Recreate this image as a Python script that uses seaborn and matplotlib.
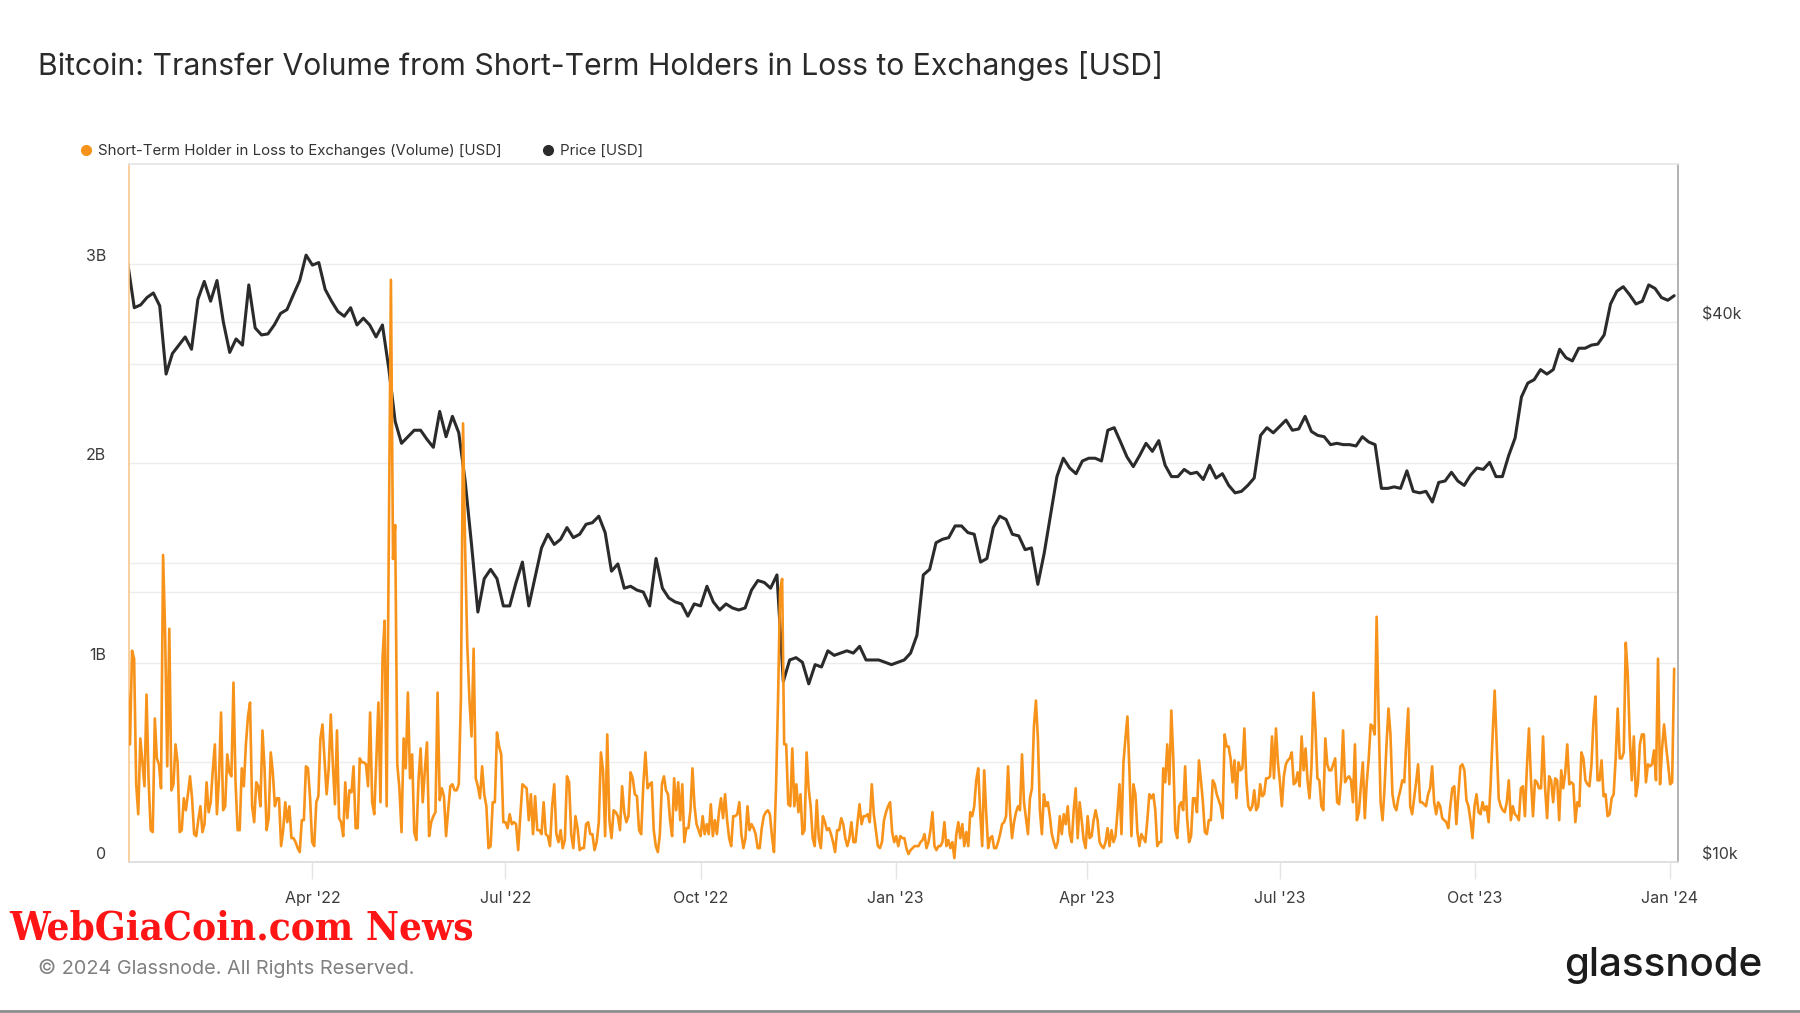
import numpy as np
import pandas as pd
import matplotlib
matplotlib.use("Agg")
import matplotlib.pyplot as plt
import matplotlib.dates as mdates
import matplotlib.transforms as mtransforms
from matplotlib.lines import Line2D
from matplotlib.ticker import NullLocator, NullFormatter
import seaborn as sns

# ---------------- DATA ----------------
title_text = "Bitcoin: Transfer Volume from Short-Term Holders in Loss to Exchanges [USD]"
series_labels = ["Short-Term Holder in Loss to Exchanges (Volume) [USD]", "Price [USD]"]

# BTC price (thousand USD), every 3 days from 2022-01-04
price_start = "2022-01-04"
price_k = [
    # 2022
    46.4, 41.5, 41.8, 42.6, 43.1, 41.7, 35.0, 36.9, 37.7, 38.5,
    37.3, 42.4, 44.4, 42.2, 44.5, 40.0, 37.0, 38.3, 37.7,
    44.0, 39.4, 38.7, 38.8, 39.7, 40.9, 41.3, 42.9, 44.5, 47.5,
    46.3, 46.6, 43.5, 42.2, 41.1, 40.6, 41.5, 39.7, 40.4, 39.7,
    38.5, 39.7, 35.5, 31.0, 29.3, 29.8, 30.3, 30.3, 29.6, 29.0, 31.8,
    29.8, 31.4, 30.1, 26.6, 22.6, 19.0, 20.7, 21.2, 20.7, 19.3,
    19.3, 20.5, 21.6, 19.3, 20.8, 22.4, 23.2, 22.6, 22.9, 23.6,
    23.0, 23.2, 23.8, 23.9, 24.3, 23.3, 21.1, 21.5, 20.2, 20.3,
    20.1, 20.0, 19.3, 21.8, 20.2, 19.7, 19.5, 19.4, 18.8, 19.4,
    19.3, 20.3, 19.5, 19.1, 19.4, 19.2, 19.1, 19.2, 20.1, 20.6, 20.5,
    20.2, 20.9, 15.9, 16.8, 16.9, 16.7, 15.8, 16.6, 16.5, 17.2,
    17.0, 17.1, 17.2, 17.1, 17.4, 16.8, 16.8, 16.8, 16.7, 16.6,
    # 2023
    16.7, 16.8, 17.1, 17.9, 20.9, 21.2, 22.7, 22.9, 23.0, 23.7,
    23.7, 23.3, 23.2, 21.6, 21.8, 23.6, 24.3, 24.1, 23.2, 23.1,
    22.3, 22.4, 20.4, 22.1, 24.4, 26.9, 28.2, 27.5, 27.1, 28.0,
    28.2, 28.2, 28.0, 30.3, 30.5, 29.4, 28.3, 27.6, 28.4, 29.3,
    28.7, 29.5, 27.7, 26.9, 26.9, 27.4, 27.1, 27.2, 26.7, 27.7,
    26.8, 27.1, 26.3, 25.8, 25.9, 26.3, 26.8, 29.9, 30.5, 30.1,
    30.6, 31.1, 30.3, 30.4, 31.4, 30.2, 29.9, 29.8, 29.2, 29.3, 29.2,
    29.2, 29.1, 29.8, 29.4, 29.2, 26.1, 26.1, 26.2, 26.1, 27.3,
    25.9, 25.8, 25.9, 25.2, 26.5, 26.6, 27.2, 26.6, 26.3, 27.0,
    27.5, 27.4, 27.9, 26.9, 26.9, 28.4, 29.7, 33.0, 34.2, 34.5,
    35.4, 35.0, 35.4, 37.3, 36.5, 36.2, 37.4, 37.4, 37.7, 37.8,
    38.7, 41.9, 43.3, 43.8, 42.9, 41.9, 42.2, 44.0, 43.6, 42.6, 42.3,
    # 2024
    42.8,
]

# Transfer volume (billion USD), read in six date segments (evenly spaced inside each)
vol_seg1_dates = ("2022-01-04", "2022-05-06")
vol_seg1 = [0.86, 0.59, 1.06, 1.02, 0.39, 0.24, 0.62, 0.50, 0.38, 0.84, 0.41, 0.16, 0.15, 0.72, 0.52, 0.49,
            0.37, 1.54, 1.14, 0.48, 1.17, 0.36, 0.39, 0.59, 0.50, 0.15, 0.16, 0.32, 0.26, 0.34, 0.43, 0.32,
            0.14, 0.13, 0.21, 0.28, 0.15, 0.19, 0.40, 0.25, 0.30, 0.46, 0.59, 0.24, 0.42, 0.75, 0.26, 0.28,
            0.54, 0.45, 0.43, 0.90, 0.40, 0.16, 0.16, 0.47, 0.38, 0.59, 0.73, 0.80, 0.28, 0.20, 0.40, 0.38,
            0.28, 0.66, 0.47, 0.16, 0.22, 0.55, 0.45, 0.28, 0.32, 0.32, 0.08, 0.16, 0.30, 0.20, 0.28, 0.12,
            0.12, 0.10, 0.07, 0.05, 0.21, 0.21, 0.48, 0.47, 0.32, 0.10, 0.08, 0.30, 0.33, 0.62, 0.69, 0.51,
            0.34, 0.47, 0.74, 0.49, 0.29, 0.66, 0.22, 0.20, 0.13, 0.40, 0.22, 0.36, 0.35, 0.48, 0.17, 0.17,
            0.52, 0.50, 0.50, 0.49, 0.38, 0.75, 0.30, 0.24, 0.51, 0.80, 0.30, 1.02, 1.21, 0.28]
vol_seg2_dates = ("2022-05-08", "2022-09-06")
vol_seg2 = [2.92, 1.52, 1.69, 0.49, 0.37, 0.15, 0.62, 0.47, 0.85, 0.42, 0.54, 0.15, 0.11, 0.41, 0.57, 0.30,
            0.46, 0.60, 0.13, 0.20, 0.23, 0.25, 0.85, 0.31, 0.37, 0.33, 0.13, 0.26, 0.38, 0.39, 0.36, 0.36,
            0.39, 0.82, 2.20, 1.57, 1.09, 0.82, 0.63, 1.07, 0.42, 0.38, 0.32, 0.48, 0.34, 0.28, 0.07, 0.08,
            0.30, 0.30, 0.65, 0.58, 0.54, 0.20, 0.20, 0.17, 0.24, 0.19, 0.20, 0.19, 0.06, 0.23, 0.39, 0.38,
            0.37, 0.21, 0.34, 0.14, 0.33, 0.16, 0.16, 0.14, 0.30, 0.14, 0.13, 0.08, 0.28, 0.39, 0.14, 0.10,
            0.16, 0.07, 0.11, 0.43, 0.40, 0.14, 0.07, 0.23, 0.17, 0.06, 0.07, 0.07, 0.19, 0.20, 0.14, 0.14,
            0.06, 0.10, 0.20, 0.55, 0.46, 0.13, 0.64, 0.21, 0.12, 0.26, 0.25, 0.23, 0.16, 0.38, 0.25, 0.20,
            0.23, 0.45, 0.42, 0.34, 0.33, 0.16, 0.14, 0.39, 0.55, 0.37]
vol_seg3_dates = ("2022-09-07", "2023-01-07")
vol_seg3 = [0.39, 0.40, 0.16, 0.08, 0.05, 0.14, 0.39, 0.43, 0.36, 0.34, 0.21, 0.13, 0.42, 0.26, 0.40, 0.21,
            0.39, 0.10, 0.17, 0.17, 0.26, 0.47, 0.28, 0.19, 0.16, 0.13, 0.23, 0.14, 0.19, 0.14, 0.29, 0.13,
            0.21, 0.14, 0.25, 0.32, 0.22, 0.34, 0.21, 0.12, 0.08, 0.23, 0.23, 0.24, 0.30, 0.14, 0.07, 0.12,
            0.28, 0.16, 0.19, 0.17, 0.14, 0.07, 0.07, 0.17, 0.23, 0.25, 0.26, 0.24, 0.13, 0.05, 0.37, 0.82,
            1.36, 1.42, 0.59, 0.59, 0.29, 0.28, 0.57, 0.28, 0.39, 0.25, 0.34, 0.14, 0.16, 0.55, 0.37, 0.28,
            0.12, 0.08, 0.31, 0.12, 0.07, 0.23, 0.20, 0.16, 0.17, 0.14, 0.10, 0.05, 0.16, 0.16, 0.22, 0.19,
            0.12, 0.08, 0.12, 0.20, 0.10, 0.10, 0.20, 0.29, 0.19, 0.23, 0.23, 0.24, 0.20, 0.39, 0.24, 0.16,
            0.08, 0.07, 0.10, 0.21, 0.25, 0.28, 0.30, 0.15, 0.10, 0.13, 0.08, 0.13, 0.12, 0.12, 0.07, 0.04]
vol_seg4_dates = ("2023-01-08", "2023-05-09")
vol_seg4 = [0.06, 0.07, 0.08, 0.08, 0.08, 0.10, 0.11, 0.14, 0.07, 0.10, 0.16, 0.25, 0.08, 0.06, 0.08, 0.08,
            0.10, 0.20, 0.08, 0.11, 0.07, 0.10, 0.02, 0.14, 0.20, 0.12, 0.19, 0.08, 0.15, 0.08, 0.25, 0.23,
            0.28, 0.41, 0.47, 0.25, 0.08, 0.46, 0.25, 0.07, 0.12, 0.13, 0.07, 0.07, 0.10, 0.14, 0.19, 0.20,
            0.23, 0.48, 0.25, 0.12, 0.20, 0.25, 0.28, 0.26, 0.54, 0.30, 0.22, 0.14, 0.32, 0.37, 0.68, 0.81,
            0.62, 0.26, 0.14, 0.34, 0.28, 0.30, 0.23, 0.14, 0.10, 0.07, 0.10, 0.23, 0.14, 0.24, 0.19, 0.28,
            0.14, 0.10, 0.26, 0.37, 0.12, 0.30, 0.21, 0.11, 0.07, 0.23, 0.12, 0.13, 0.21, 0.26, 0.21, 0.10,
            0.08, 0.07, 0.10, 0.17, 0.08, 0.16, 0.10, 0.13, 0.25, 0.39, 0.14, 0.50, 0.62, 0.73, 0.46, 0.13,
            0.39, 0.34, 0.15, 0.08, 0.14, 0.12, 0.10, 0.21, 0.34, 0.32, 0.34, 0.26, 0.08, 0.10, 0.10, 0.47,
            0.40, 0.59]
vol_seg5_dates = ("2023-05-10", "2023-09-08")
vol_seg5 = [0.39, 0.76, 0.52, 0.16, 0.12, 0.28, 0.30, 0.26, 0.48, 0.22, 0.10, 0.13, 0.32, 0.32, 0.25, 0.51,
            0.41, 0.30, 0.15, 0.14, 0.21, 0.21, 0.41, 0.39, 0.34, 0.31, 0.28, 0.22, 0.64, 0.58, 0.58, 0.52,
            0.40, 0.51, 0.32, 0.50, 0.46, 0.47, 0.67, 0.41, 0.28, 0.26, 0.28, 0.36, 0.26, 0.28, 0.39, 0.33,
            0.34, 0.42, 0.42, 0.43, 0.63, 0.42, 0.67, 0.50, 0.40, 0.28, 0.43, 0.49, 0.51, 0.52, 0.55, 0.39,
            0.40, 0.45, 0.38, 0.63, 0.46, 0.57, 0.41, 0.32, 0.48, 0.85, 0.67, 0.42, 0.41, 0.28, 0.26, 0.62,
            0.49, 0.46, 0.46, 0.49, 0.52, 0.30, 0.29, 0.41, 0.66, 0.40, 0.42, 0.43, 0.41, 0.30, 0.59, 0.21,
            0.25, 0.38, 0.50, 0.22, 0.40, 0.52, 0.69, 0.68, 0.64, 1.23, 0.73, 0.30, 0.21, 0.37, 0.59, 0.77,
            0.64, 0.34, 0.28, 0.26, 0.32, 0.36, 0.41, 0.40, 0.60, 0.77, 0.28, 0.24, 0.32, 0.40, 0.49, 0.30,
            0.30, 0.29, 0.28]
vol_seg6_dates = ("2023-09-09", "2024-01-03")
vol_seg6 = [0.34, 0.37, 0.48, 0.30, 0.24, 0.30, 0.28, 0.22, 0.21, 0.20, 0.17, 0.28, 0.37, 0.38, 0.19, 0.34,
            0.48, 0.49, 0.46, 0.31, 0.28, 0.21, 0.12, 0.28, 0.34, 0.25, 0.24, 0.30, 0.26, 0.28, 0.20, 0.39,
            0.64, 0.86, 0.59, 0.32, 0.28, 0.26, 0.25, 0.30, 0.41, 0.21, 0.28, 0.24, 0.23, 0.21, 0.37, 0.38,
            0.23, 0.48, 0.67, 0.41, 0.23, 0.41, 0.40, 0.37, 0.37, 0.63, 0.37, 0.22, 0.43, 0.41, 0.30, 0.42,
            0.41, 0.21, 0.46, 0.37, 0.45, 0.59, 0.39, 0.40, 0.39, 0.20, 0.30, 0.28, 0.55, 0.52, 0.41, 0.39,
            0.38, 0.49, 0.71, 0.83, 0.41, 0.41, 0.51, 0.33, 0.34, 0.23, 0.24, 0.32, 0.34, 0.52, 0.77, 0.52,
            0.52, 0.55, 1.10, 0.94, 0.62, 0.41, 0.63, 0.33, 0.39, 0.59, 0.64, 0.64, 0.40, 0.49, 0.48, 0.49,
            0.56, 0.41, 1.02, 0.39, 0.57, 0.69, 0.58, 0.49, 0.39, 0.40, 0.97]

vol_ticks = [0, 1e9, 2e9, 3e9]
vol_tick_labels = ["0", "1B", "2B", "3B"]
vol_grid = [0.5e9, 1e9, 1.5e9, 2e9, 2.5e9, 3e9]
price_ticks = [10000, 40000]
price_tick_labels = ["$10k", "$40k"]
price_grid = [20000, 40000]

# ---------------- BUILD FRAMES ----------------
segments = [(vol_seg1_dates, vol_seg1), (vol_seg2_dates, vol_seg2), (vol_seg3_dates, vol_seg3),
            (vol_seg4_dates, vol_seg4), (vol_seg5_dates, vol_seg5), (vol_seg6_dates, vol_seg6)]
v_dates, v_vals = [], []
for (s, e), vals in segments:
    v_dates.extend(pd.date_range(s, e, periods=len(vals)))
    v_vals.extend(vals)
vol_df = pd.DataFrame({"date": v_dates, "volume": np.array(v_vals) * 1e9})
price_df = pd.DataFrame({"date": pd.date_range(price_start, periods=len(price_k), freq="3D"),
                         "price": np.array(price_k) * 1000})

# ---------------- STYLE ----------------
sns.set_theme(style="white")
plt.rcParams["font.family"] = ["Inter", "DejaVu Sans"]

ORANGE = "#f7931a"
DARK = "#2b2b2b"
GRID = "#ececec"
TICKC = "#3c3c3c"

fig = plt.figure(figsize=(18, 10.13), dpi=100)
ax_v = fig.add_axes([0.0714, 0.149, 0.8608, 0.689])
ax_p = ax_v.twinx()
ax_v.set_zorder(ax_p.get_zorder() + 1)
ax_v.patch.set_visible(False)

# price (bottom layer)
sns.lineplot(data=price_df, x="date", y="price", ax=ax_p, color=DARK, linewidth=2.2, zorder=3)
ax_p.set_yscale("log")
ax_p.set_ylim(10000, 60000)

# volume (top layer)
sns.lineplot(data=vol_df, x="date", y="volume", ax=ax_v, color=ORANGE, linewidth=1.9, zorder=3)
ax_v.set_ylim(0, 3.5e9)
ax_v.set_xlim(pd.Timestamp("2022-01-04 07:00"), pd.Timestamp("2024-01-04 19:00"))

# gridlines, all on the bottom layer
for g in price_grid:
    ax_p.axhline(g, color=GRID, lw=1.0, zorder=0)
blend = mtransforms.blended_transform_factory(ax_p.transAxes, ax_v.transData)
for g in vol_grid:
    ax_p.add_line(Line2D([0, 1], [g, g], transform=blend, color=GRID, lw=1.0, zorder=0))

# axes labels / ticks
for a in (ax_v, ax_p):
    a.set_xlabel("")
    a.set_ylabel("")
ax_v.set_yticks(vol_ticks)
ax_v.set_yticklabels(vol_tick_labels)
ax_v.tick_params(axis="y", left=False, length=0, pad=16, labelsize=11.5, labelcolor=TICKC)
for t in ax_v.get_yticklabels():
    t.set_verticalalignment("bottom")

ax_p.yaxis.set_minor_locator(NullLocator())
ax_p.yaxis.set_minor_formatter(NullFormatter())
ax_p.set_yticks(price_ticks)
ax_p.set_yticklabels(price_tick_labels)
ax_p.tick_params(axis="y", right=False, length=0, pad=17, labelsize=11.5, labelcolor=TICKC)
for t in ax_p.get_yticklabels():
    t.set_verticalalignment("bottom")

ax_v.xaxis.set_major_locator(mdates.MonthLocator(bymonth=[1, 4, 7, 10]))
ax_v.xaxis.set_major_formatter(mdates.DateFormatter("%b '%y"))
ax_v.tick_params(axis="x", bottom=True, length=12, width=1, color="#e4e4e4", pad=9,
                 labelsize=11.5, labelcolor=TICKC)

# spines
for name, sp in ax_v.spines.items():
    sp.set_visible(name in ("left", "top", "bottom"))
ax_v.spines["left"].set_color("#fbc78c")
ax_v.spines["left"].set_linewidth(1.2)
ax_v.spines["top"].set_color("#e6e6e6")
ax_v.spines["bottom"].set_color("#dcdcdc")
for name, sp in ax_p.spines.items():
    sp.set_visible(name == "right")
ax_p.spines["right"].set_color("#a6a6a6")
ax_p.spines["right"].set_linewidth(1.2)

# legend
handles = [Line2D([], [], marker="o", ls="", color=ORANGE, markersize=7),
           Line2D([], [], marker="o", ls="", color=DARK, markersize=7)]
fig.legend(handles, series_labels, loc="center left", bbox_to_anchor=(0.0444, 0.851),
           ncol=2, frameon=False, fontsize=10.8, handletextpad=0.4, columnspacing=2.7,
           handlelength=0.8, borderpad=0, borderaxespad=0, labelcolor="#333333")

# texts
fig.text(0.021, 0.935, title_text, fontsize=21.7, color="#2a2a2a", ha="left", va="center")
fig.text(0.005, 0.083, "WebGiaCoin.com News", fontsize=29, color="#ff1515", fontweight="bold",
         family="DejaVu Serif", fontstretch="condensed", ha="left", va="center")
fig.text(0.021, 0.044, "\u00a9 2024 Glassnode. All Rights Reserved.", fontsize=14.3, color="#808080",
         ha="left", va="center")
fig.text(0.979, 0.047, "glassnode", fontsize=29, color="#1c1c1c", fontweight="medium",
         ha="right", va="center")
fig.add_artist(Line2D([0, 1], [0.002, 0.002], color="#8c8c8c", lw=2, transform=fig.transFigure))

fig.savefig("out.png", dpi=100, facecolor="white")
